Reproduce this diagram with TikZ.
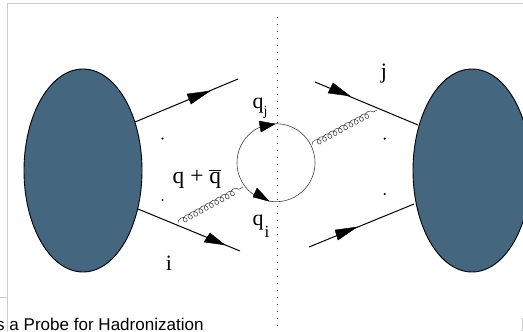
\documentclass[tikz,border=0pt]{standalone}
\usepackage{fontspec}
\setmainfont{Liberation Serif}
\newfontfamily\capfont{Liberation Sans}
\usetikzlibrary{decorations.pathmorphing,shapes.geometric}
\definecolor{blob}{HTML}{44667F}
\definecolor{framegray}{HTML}{CCCCCC}
\tikzset{
  hadron/.style={ellipse,draw=black,line width=0.9bp,fill=blob,inner sep=0pt,minimum width=118bp,minimum height=203bp},
  quark/.style={draw=black,line width=1bp},
  head/.style={fill=black,draw=black,line width=0.4bp,line join=miter},
  loopline/.style={circle,draw=black!75,line width=0.6bp,inner sep=0pt,minimum size=78bp},
  gluon/.style={draw=black!80,line width=0.5bp,decorate,decoration={coil,aspect=1.1,segment length=6bp,amplitude=3bp}},
  framing/.style={draw=framegray,line width=1bp},
  cutline/.style={draw=black!75,line width=1bp,dash pattern=on 1.2bp off 5.8bp},
  lab/.style={inner sep=0pt,font=\fontsize{22}{24}\selectfont},
  sublab/.style={inner sep=0pt,font=\fontsize{14}{16}\selectfont},
  dotmark/.style={circle,fill=black,inner sep=0pt,minimum size=2.4bp}
}
\begin{document}
\begin{tikzpicture}[x=1bp,y=-1bp]
\useasboundingbox (0,0) rectangle (523,331);
\clip (0,0) rectangle (523,331);
\fill[white] (0,0) rectangle (523,331);
% page frame
\coordinate (ftl) at (7.5,3.5);
\coordinate (ftr) at (523,3.5);
\coordinate (fbl) at (7.5,331);
\coordinate (fml) at (0,297);
\coordinate (fmr) at (7.5,297);
\coordinate (rb) at (522.5,318);
\coordinate (re) at (522.5,331);
\draw[framing] (fbl) -- (ftl) -- (ftr);
\draw[framing] (fml) -- (fmr);
\draw[framing] (rb) -- (re);
% cut line
\coordinate (cuttop) at (277,17);
\coordinate (cutbot) at (277,331);
\draw[cutline] (cuttop) -- (cutbot);
% quark lines
\coordinate (ula) at (135,122);
\coordinate (ulb) at (238,79);
\coordinate (lla) at (138,209);
\coordinate (llb) at (240,251);
\coordinate (ura) at (315,82);
\coordinate (urb) at (418,125);
\coordinate (lra) at (309,247);
\coordinate (lrb) at (414,204);
\draw[quark] (ula) -- (ulb);
\draw[quark] (lla) -- (llb);
\draw[quark] (ura) -- (urb);
\draw[quark] (lra) -- (lrb);
% hadrons
\node[hadron] (hl) at (83,170.5) {};
\node[hadron] (hr) at (472,170.5) {};
% arrowheads
\fill[head] (187,94) -- (191,104) -- (210,91) -- cycle;
\fill[head] (210,233) -- (204,242) -- (225,245) -- cycle;
\fill[head] (333,83) -- (328,93) -- (350,96) -- cycle;
\fill[head] (335,230) -- (338,240) -- (357,227) -- cycle;
% loop
\node[loopline] (loop) at (276,162.7) {};
\fill[head] (259,121) -- (261,132) -- (275,124) -- cycle;
\fill[head] (257,188) -- (253,197) -- (269,201) -- cycle;
% gluons
\coordinate (gla) at (178,223);
\coordinate (glb) at (243,187);
\coordinate (gra) at (312,145);
\coordinate (grb) at (377,110);
\draw[gluon] (gla) -- (glb);
\draw[gluon] (gra) -- (grb);
% dots
\node[dotmark] (d1) at (162.5,138.5) {};
\node[dotmark] (d2) at (162.5,200) {};
\node[dotmark] (d3) at (384.7,138.7) {};
\node[dotmark] (d4) at (384.7,194) {};
% labels
\node[lab,anchor=base west] (qj) at (252.5,108.5) {q};
\node[sublab,anchor=base west] (qjs) at (263.5,115) {j};
\node[lab,anchor=base west,font=\fontsize{23.5}{25}\selectfont] (qq) at (172.5,183) {q + $\overline{\mbox{q}}$};
\node[lab,anchor=base west] (qi) at (252.5,225) {q};
\node[lab,anchor=base west,font=\fontsize{17}{19}\selectfont] (qis) at (264.5,237) {i};
\node[lab,anchor=base] (il) at (169,270) {i};
\node[lab,anchor=base] (jl) at (384,78) {j};
% caption
\node[inner sep=0pt,anchor=base west,font=\capfont\fontsize{17.1}{19}\selectfont] (cap) at (-4,330.5) {s a Probe for Hadronization};
\end{tikzpicture}
\end{document}
